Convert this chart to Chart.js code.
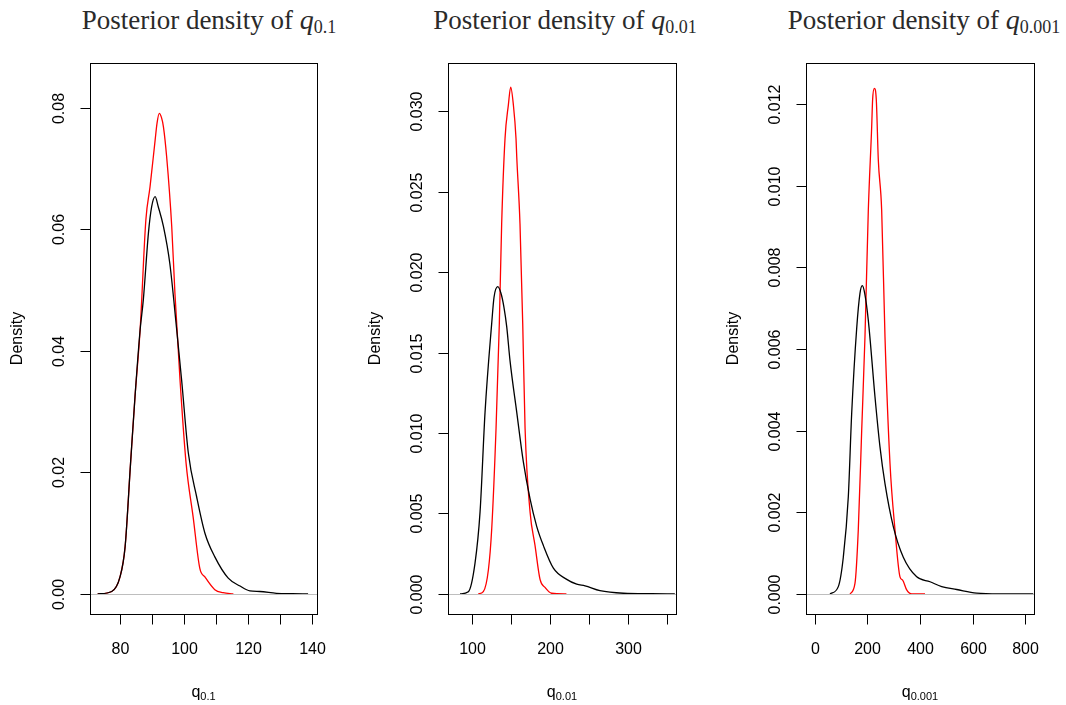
<!DOCTYPE html>
<html>
<head>
<meta charset="utf-8">
<script src="https://cdn.jsdelivr.net/npm/chart.js@4.4.1/dist/chart.umd.min.js"></script>
<style>
  body { margin: 0; background: #fff; width: 1066px; height: 705px; position: relative; overflow: hidden; }
  canvas.panel { position: absolute; top: 0; }
  .ttl { position: absolute; top: 6px; font-family: "Liberation Serif", "Times New Roman", serif; font-size: 27px;
         line-height: 1; white-space: nowrap; transform: translateX(-50%); color: #2a2a2a; }
  .ttl i { font-size: 28px; }
  .ttl sub { font-size: 18px; vertical-align: baseline; position: relative; top: 4px; }
</style>
</head>
<body>
<div class="ttl" style="left:209px">Posterior density of <i>q</i><sub>0.1</sub></div>
<div class="ttl" style="left:565px">Posterior density of <i>q</i><sub>0.01</sub></div>
<div class="ttl" style="left:924px">Posterior density of <i>q</i><sub>0.001</sub></div>
<canvas class="panel" id="p1" width="355" height="705" style="left:0px"></canvas>
<canvas class="panel" id="p2" width="355" height="705" style="left:355px"></canvas>
<canvas class="panel" id="p3" width="355" height="705" style="left:711px"></canvas>
<script>
// q_0.1 : black and red density estimates
const q1BlackX = [73, 77.4, 80, 81.6, 83.3, 84.7, 86.3, 87.3, 88.9, 89.9, 91.0, 92.0, 93.6, 95.6, 97.7, 99.3, 101.4, 104.0, 106.6, 109.7, 113.9, 117.6, 120.7, 123.8, 129, 134, 138.9];
const q1BlackY = [0, 0.0004, 0.0028, 0.0078, 0.0215, 0.0325, 0.0435, 0.0484, 0.0594, 0.0637, 0.0654, 0.0637, 0.0605, 0.0544, 0.0438, 0.0352, 0.0232, 0.016, 0.010, 0.0061, 0.0026, 0.0013, 0.0005, 0.0004, 0.0001, 0.00003, 0];
const q1RedX = [73, 77.4, 80, 81.6, 83.3, 84.7, 86.3, 88.1, 89.4, 91.0, 91.6, 92.3, 93.0, 93.6, 94.6, 96.2, 97.2, 98.8, 100.7, 102.9, 105.0, 106.6, 109.7, 112.3, 115.5];
const q1RedY = [0, 0.0004, 0.0028, 0.0078, 0.0215, 0.0325, 0.0435, 0.0616, 0.067, 0.0747, 0.0775, 0.0791, 0.0784, 0.0769, 0.072, 0.0605, 0.0495, 0.0352, 0.0215, 0.0127, 0.0042, 0.0028, 0.0007, 0.0002, 0];

// q_0.01
const q2BlackX = [84.6, 95.3, 103.8, 110.3, 116.7, 125.2, 128.2, 133, 137, 141, 144.5, 148.7, 157.3, 165.8, 174.4, 182.9, 191.5, 204.3, 221.4, 234.2, 244.9, 264, 294, 330, 360];
const q2BlackY = [0, 0.00014, 0.0019, 0.0051, 0.0113, 0.0168, 0.01844, 0.0191, 0.0187, 0.0178, 0.0166, 0.0145, 0.0113, 0.0082, 0.0059, 0.0042, 0.003, 0.0016, 0.0009, 0.0006, 0.0005, 0.0002, 0.00004, 0.00001, 0];
const q2RedX = [108, 114.5, 121, 125.2, 130.8, 135, 138, 142.3, 146.6, 149.6, 153, 156.4, 157.3, 161.5, 165, 168, 174.4, 180.8, 187.2, 193.6, 202, 221];
const q2RedY = [0, 0.00014, 0.0015, 0.004, 0.0103, 0.0168, 0.023, 0.0283, 0.0304, 0.0315, 0.0304, 0.0283, 0.0272, 0.023, 0.0168, 0.0103, 0.0051, 0.003, 0.0009, 0.0004, 0.00004, 0];

// q_0.001
const q3BlackX = [58, 89.7, 108.7, 127.7, 140.5, 159.5, 172, 180.9, 190, 203.7, 229, 248, 267, 298.6, 336.6, 387.5, 438, 482.4, 539.4, 615, 700, 830];
const q3BlackY = [0, 0.00018, 0.0009, 0.00238, 0.00442, 0.0065, 0.00736, 0.00755, 0.00736, 0.0067, 0.00483, 0.0036, 0.0027, 0.00165, 0.0009, 0.00042, 0.0003, 0.00018, 0.00011, 0.00002, 0, 0];
const q3RedX = [134, 153, 165.6, 178.5, 191, 203.7, 216.5, 220, 226.5, 234, 241.7, 254.4, 267, 286, 305, 324, 334, 349.5, 368.5, 419];
const q3RedY = [0, 0.00026, 0.00157, 0.004, 0.0063, 0.0094, 0.01144, 0.0121, 0.01238, 0.0121, 0.01062, 0.0094, 0.0063, 0.0032, 0.00157, 0.00042, 0.00034, 0.0001, 0, 0];

// axis ticks and labels
const q1XTicks = [80, 90, 100, 110, 120, 130, 140];
const q1XLabels = ['80', '', '100', '', '120', '', '140'];
const q1YTicks = [0, 0.02, 0.04, 0.06, 0.08];
const q1YLabels = ['0.00', '0.02', '0.04', '0.06', '0.08'];
const q2XTicks = [100, 150, 200, 250, 300, 350];
const q2XLabels = ['100', '', '200', '', '300', ''];
const q2YTicks = [0, 0.005, 0.010, 0.015, 0.020, 0.025, 0.030];
const q2YLabels = ['0.000', '0.005', '0.010', '0.015', '0.020', '0.025', '0.030'];
const q3XTicks = [0, 200, 400, 600, 800];
const q3XLabels = ['0', '200', '400', '600', '800'];
const q3YTicks = [0, 0.002, 0.004, 0.006, 0.008, 0.010, 0.012];
const q3YLabels = ['0.000', '0.002', '0.004', '0.006', '0.008', '0.010', '0.012'];

const xSubs = ['0.1', '0.01', '0.001'];

const zip = (xs, ys) => xs.map((x, i) => ({ x: x, y: ys[i] }));

const SANS = '"Liberation Sans", Arial, sans-serif';

// R-style frame: box, outward ticks, rotated y labels, zero line
const rAxes = {
  id: 'rAxes',
  afterDatasetsDraw(chart, args, opts) {
    const { ctx, chartArea: a, scales: { x, y } } = chart;
    ctx.save();

    // zero line
    const y0 = Math.round(y.getPixelForValue(0)) + 0.5;
    ctx.strokeStyle = '#bebebe';
    ctx.lineWidth = 1;
    ctx.beginPath();
    ctx.moveTo(a.left, y0);
    ctx.lineTo(a.right, y0);
    ctx.stroke();

    // box
    ctx.strokeStyle = '#000';
    ctx.strokeRect(Math.round(a.left) + 0.5, Math.round(a.top) + 0.5,
      Math.round(a.right - a.left), Math.round(a.bottom - a.top));

    ctx.fillStyle = '#000';
    ctx.font = '16px ' + SANS;

    // x axis
    const bottom = Math.round(a.bottom) + 0.5;
    ctx.textAlign = 'center';
    ctx.textBaseline = 'alphabetic';
    opts.xTicks.forEach((v, i) => {
      const px = Math.round(x.getPixelForValue(v)) + 0.5;
      ctx.beginPath();
      ctx.moveTo(px, bottom);
      ctx.lineTo(px, bottom + 10);
      ctx.stroke();
      if (opts.xLabels[i]) ctx.fillText(opts.xLabels[i], px, a.bottom + 39.5);
    });

    // y axis
    const left = Math.round(a.left) + 0.5;
    opts.yTicks.forEach((v, i) => {
      const py = Math.round(y.getPixelForValue(v)) + 0.5;
      ctx.beginPath();
      ctx.moveTo(left, py);
      ctx.lineTo(left - 10, py);
      ctx.stroke();
      ctx.save();
      ctx.translate(a.left - 26.5, py);
      ctx.rotate(-Math.PI / 2);
      ctx.fillText(opts.yLabels[i], 0, 0);
      ctx.restore();
    });

    // y title
    ctx.save();
    ctx.translate(a.left - 68.5, (a.top + a.bottom) / 2);
    ctx.rotate(-Math.PI / 2);
    ctx.fillText('Density', 0, 0);
    ctx.restore();

    // x title: q with subscript
    const mid = (a.left + a.right) / 2;
    ctx.font = '16px ' + SANS;
    const wq = ctx.measureText('q').width;
    ctx.font = '11px ' + SANS;
    const ws = ctx.measureText(opts.xSub).width;
    const start = mid - (wq + ws) / 2;
    ctx.textAlign = 'left';
    ctx.font = '16px ' + SANS;
    ctx.fillText('q', start, a.bottom + 82.5);
    ctx.font = '11px ' + SANS;
    ctx.fillText(opts.xSub, start + wq, a.bottom + 85.5);

    ctx.restore();
  }
};

function makePanel(id, box, canvasLeft, xMin, xMax, yMin, yMax, black, red, axes) {
  const canvas = document.getElementById(id);
  return new Chart(canvas, {
    type: 'line',
    data: {
      datasets: [
        { data: black, borderColor: '#000000' },
        { data: red, borderColor: '#ff0000' }
      ]
    },
    options: {
      responsive: false,
      animation: false,
      parsing: false,
      elements: {
        point: { radius: 0 },
        line: { borderWidth: 1.3, cubicInterpolationMode: 'monotone', fill: false }
      },
      layout: {
        padding: {
          left: box[0] - canvasLeft,
          top: box[1],
          right: canvasLeft + 355 - box[2],
          bottom: 705 - box[3]
        }
      },
      scales: {
        x: { type: 'linear', min: xMin, max: xMax, display: false },
        y: { type: 'linear', min: yMin, max: yMax, display: false }
      },
      plugins: {
        legend: { display: false },
        tooltip: { enabled: false },
        rAxes: axes
      }
    },
    plugins: [rAxes]
  });
}

makePanel('p1', [90, 63, 317, 614], 0, 70.6, 141.7, -0.0033, 0.0874,
  zip(q1BlackX, q1BlackY), zip(q1RedX, q1RedY),
  { xTicks: q1XTicks, xLabels: q1XLabels, yTicks: q1YTicks, yLabels: q1YLabels, xSub: xSubs[0] });

makePanel('p2', [448, 63, 676, 614], 355, 69.2, 361.5, -0.00125, 0.0330,
  zip(q2BlackX, q2BlackY), zip(q2RedX, q2RedY),
  { xTicks: q2XTicks, xLabels: q2XLabels, yTicks: q2YTicks, yLabels: q2YLabels, xSub: xSubs[1] });

makePanel('p3', [806, 63, 1034, 614], 711, -33, 833, -0.00049, 0.0130,
  zip(q3BlackX, q3BlackY), zip(q3RedX, q3RedY),
  { xTicks: q3XTicks, xLabels: q3XLabels, yTicks: q3YTicks, yLabels: q3YLabels, xSub: xSubs[2] });
</script>
</body>
</html>
